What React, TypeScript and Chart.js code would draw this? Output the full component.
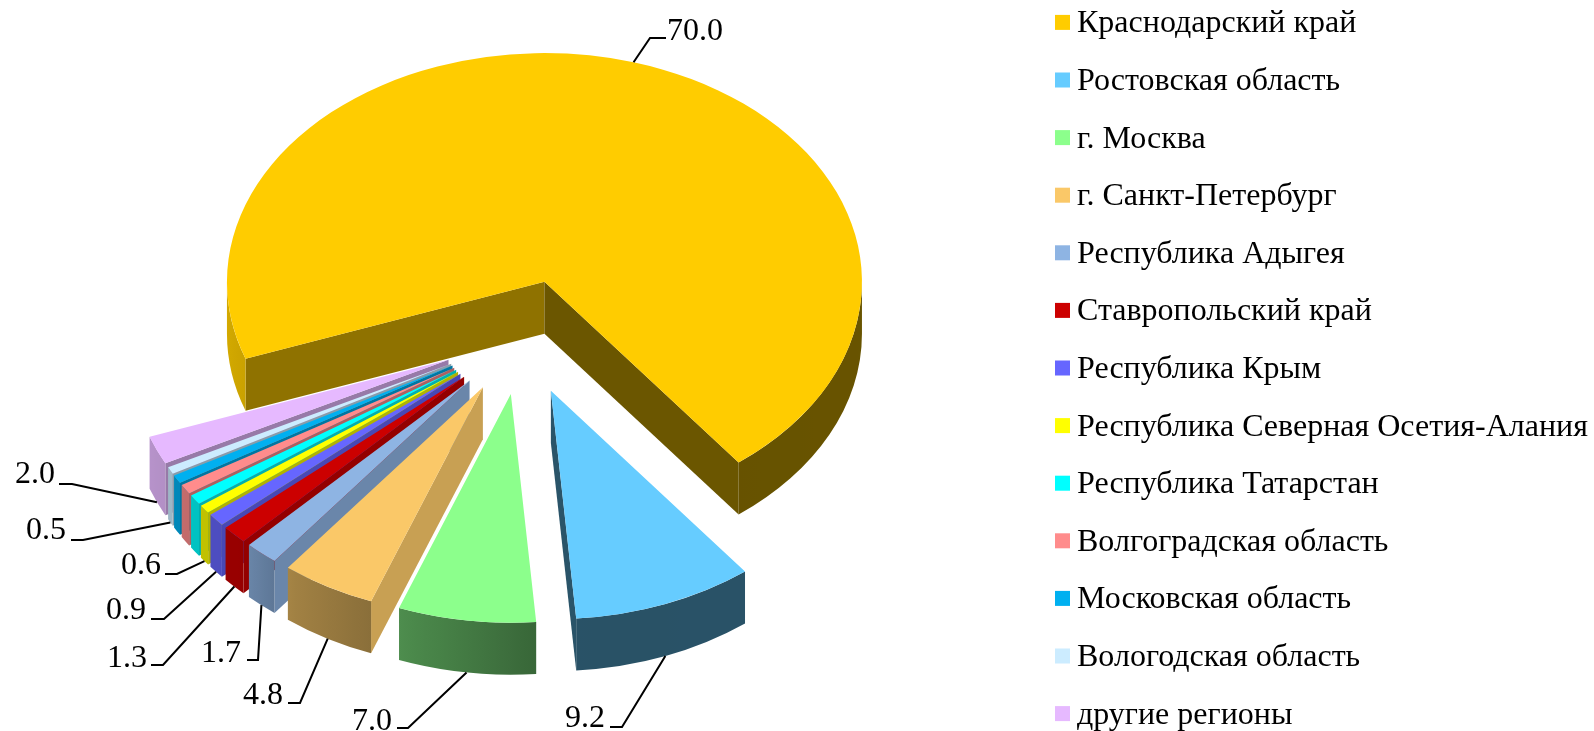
import React, { useEffect, useRef } from "react";
import { Chart, registerables } from "chart.js";

Chart.register(...registerables);

const categories = [
  "Краснодарский край",
  "Ростовская область",
  "г. Москва",
  "г. Санкт-Петербург",
  "Республика Адыгея",
  "Ставропольский край",
  "Республика Крым",
  "Республика Северная Осетия-Алания",
  "Республика Татарстан",
  "Волгоградская область",
  "Московская область",
  "Вологодская область",
  "другие регионы",
];
const shares = [70.0, 9.2, 7.0, 4.8, 1.7, 1.3, 0.9, 0.6, 0.7, 0.7, 0.6, 0.5, 2.0];
const sliceColors = [
  "#ffcc00", "#66ccff", "#8cff8c", "#fac868", "#8eb4e3", "#cc0000", "#6666ff",
  "#ffff00", "#00ffff", "#ff8c8c", "#00b0f0", "#ccecff", "#e6b9ff",
];

// Callout layout per slice: [text x, text y, line end x, elbow x, elbow y]; null = no callout
const callouts: (number[] | null)[] = [
  [695, 32, 666, 650, 38],
  [585, 719, 610, 622, 727],
  [372, 722, 397, 408, 728],
  [263, 696, 288, 300, 703],
  [221, 654, 247, 258, 660],
  [127, 659, 151, 163, 665],
  [126, 611, 151, 164, 619],
  [141, 566, 165, 177, 574],
  null,
  null,
  null,
  [46, 531, 71, 83, 540],
  [35, 475, 59, 72, 484],
];

const W = 1594;
const H = 731;
const CENTER_X = 522;
const CENTER_Y = 337;
const RADIUS = 317.5;
const TILT = 0.72;
const EXPLODE = 80;
const DEPTH = 52;
const LABEL_FONT = '32px "Liberation Serif"';
const LEGEND_FONT = '32px "Liberation Serif"';
const LEGEND_BOX_X = 1055;
const LEGEND_TEXT_X = 1077;
const LEGEND_TOP = 22.4;
const LEGEND_STEP = 57.6;
const LEGEND_TEXT_DY = 1.5;
const LEGEND_BOX = 15;

const OUTER_SHADE = [[0, 0.41], [85, 0.4], [110, 0.55], [127, 0.65], [134, 0.74], [155, 0.78], [180, 0.84]];
const RADIAL_SHADE = [[0, 0.82], [20, 0.8], [37, 0.75], [63, 0.66], [70, 0.56], [90, 0.5], [142, 0.42], [180, 0.41]];

function lerpTable(table: number[][], v: number) {
  for (let i = 1; i < table.length; i++) {
    if (v <= table[i][0]) {
      const [a, fa] = table[i - 1];
      const [b, fb] = table[i];
      return fa + ((fb - fa) * (v - a)) / (b - a);
    }
  }
  return table[table.length - 1][1];
}

function shade(hex: string, f: number) {
  const n = parseInt(hex.slice(1), 16);
  const c = [(n >> 16) & 255, (n >> 8) & 255, n & 255].map((x) => Math.round(x * f));
  return `rgb(${c[0]},${c[1]},${c[2]})`;
}

const TAU = Math.PI * 2;
const deg = (r: number) => (r * 180) / Math.PI;

function apexOf(arc: any) {
  const mid = (arc.startAngle + arc.endAngle) / 2;
  return {
    x: arc.x + Math.cos(mid) * EXPLODE,
    y: arc.y + Math.sin(mid) * EXPLODE * TILT,
  };
}

function drawWalls(ctx: CanvasRenderingContext2D, arc: any, color: string) {
  const p = apexOf(arc);
  const R = arc.outerRadius;
  const rim = (a: number) => ({ x: p.x + Math.cos(a) * R, y: p.y + Math.sin(a) * R * TILT });

  // radial faces
  const faces = [
    { a: arc.startAngle, normal: arc.startAngle - Math.PI / 2 },
    { a: arc.endAngle, normal: arc.endAngle + Math.PI / 2 },
  ];
  for (const f of faces) {
    if (Math.sin(f.normal) <= 0) continue;
    const q = rim(f.a);
    const nd = deg(((f.normal % TAU) + TAU) % TAU);
    ctx.fillStyle = shade(color, lerpTable(RADIAL_SHADE, nd));
    ctx.beginPath();
    ctx.moveTo(p.x, p.y);
    ctx.lineTo(q.x, q.y);
    ctx.lineTo(q.x, q.y + DEPTH);
    ctx.lineTo(p.x, p.y + DEPTH);
    ctx.closePath();
    ctx.fill();
  }

  // outer wall: the parts of the rim that face the viewer
  for (let k = -1; k <= 2; k++) {
    const lo = Math.max(arc.startAngle, k * TAU);
    const hi = Math.min(arc.endAngle, k * TAU + Math.PI);
    if (hi <= lo) continue;
    const x1 = rim(lo).x;
    const x2 = rim(hi).x;
    const g = ctx.createLinearGradient(x1, 0, x2 === x1 ? x1 + 1 : x2, 0);
    const N = 10;
    for (let i = 0; i <= N; i++) {
      const a = lo + ((hi - lo) * i) / N;
      const off = x2 === x1 ? 0 : Math.min(1, Math.max(0, (rim(a).x - x1) / (x2 - x1)));
      g.addColorStop(off, shade(color, lerpTable(OUTER_SHADE, deg(a - k * TAU))));
    }
    ctx.fillStyle = g;
    ctx.beginPath();
    ctx.ellipse(p.x, p.y, R, R * TILT, 0, lo, hi);
    ctx.ellipse(p.x, p.y + DEPTH, R, R * TILT, 0, hi, lo, true);
    ctx.closePath();
    ctx.fill();
  }
}

const pie3d = {
  id: "pie3d",
  beforeDatasetsDraw(chart: any) {
    const ctx = chart.ctx;
    const arcs = chart.getDatasetMeta(0).data;
    const order = [0, ...arcs.map((_: any, i: number) => i).slice(1).reverse()];
    for (const i of order) {
      const arc = arcs[i];
      drawWalls(ctx, arc, sliceColors[i]);
      const p = apexOf(arc);
      ctx.save();
      ctx.translate(p.x, p.y);
      ctx.scale(1, TILT);
      ctx.translate(-arc.x, -arc.y);
      arc.draw(ctx);
      ctx.restore();
    }
    return false;
  },
  afterDraw(chart: any) {
    const ctx = chart.ctx;
    const arcs = chart.getDatasetMeta(0).data;
    ctx.save();
    // value callouts
    ctx.font = LABEL_FONT;
    ctx.textAlign = "center";
    ctx.textBaseline = "middle";
    ctx.strokeStyle = "#000";
    ctx.fillStyle = "#000";
    ctx.lineWidth = 2;
    arcs.forEach((arc: any, i: number) => {
      const c = callouts[i];
      if (!c) return;
      const p = apexOf(arc);
      const mid = (arc.startAngle + arc.endAngle) / 2;
      const front = Math.sin(mid) > 0;
      const sx = p.x + Math.cos(mid) * arc.outerRadius;
      const sy = p.y + Math.sin(mid) * arc.outerRadius * TILT + (front ? DEPTH : 0);
      ctx.beginPath();
      ctx.moveTo(sx, sy);
      ctx.lineTo(c[3], c[4]);
      ctx.lineTo(c[2], c[4]);
      ctx.stroke();
      ctx.fillText(shares[i].toFixed(1), c[0], c[1]);
    });
    // legend
    ctx.font = LEGEND_FONT;
    ctx.textAlign = "left";
    categories.forEach((name, i) => {
      const y = LEGEND_TOP + i * LEGEND_STEP;
      ctx.fillStyle = sliceColors[i];
      ctx.fillRect(LEGEND_BOX_X, y - LEGEND_BOX / 2, LEGEND_BOX, LEGEND_BOX);
      ctx.fillStyle = "#000";
      ctx.fillText(name, LEGEND_TEXT_X, y + LEGEND_TEXT_DY);
    });
    ctx.restore();
  },
};

export default function App() {
  const ref = useRef<HTMLCanvasElement>(null);
  useEffect(() => {
    const chart = new Chart(ref.current as HTMLCanvasElement, {
      type: "pie",
      data: {
        labels: categories,
        datasets: [
          {
            data: shares,
            backgroundColor: sliceColors,
            borderWidth: 0,
            radius: RADIUS,
          } as any,
        ],
      },
      options: {
        responsive: false,
        animation: false,
        rotation: 250.3,
        layout: {
          padding: {
            left: 0,
            top: 0,
            right: W - 2 * CENTER_X,
            bottom: H - 2 * CENTER_Y,
          },
        },
        plugins: { legend: { display: false }, tooltip: { enabled: false } },
      },
      plugins: [pie3d],
    } as any);
    return () => chart.destroy();
  }, []);
  return (
    <div style={{ position: "fixed", left: 0, top: 0, width: W, height: H, background: "#fff" }}>
      <canvas ref={ref} width={W} height={H} style={{ display: "block" }} />
    </div>
  );
}
